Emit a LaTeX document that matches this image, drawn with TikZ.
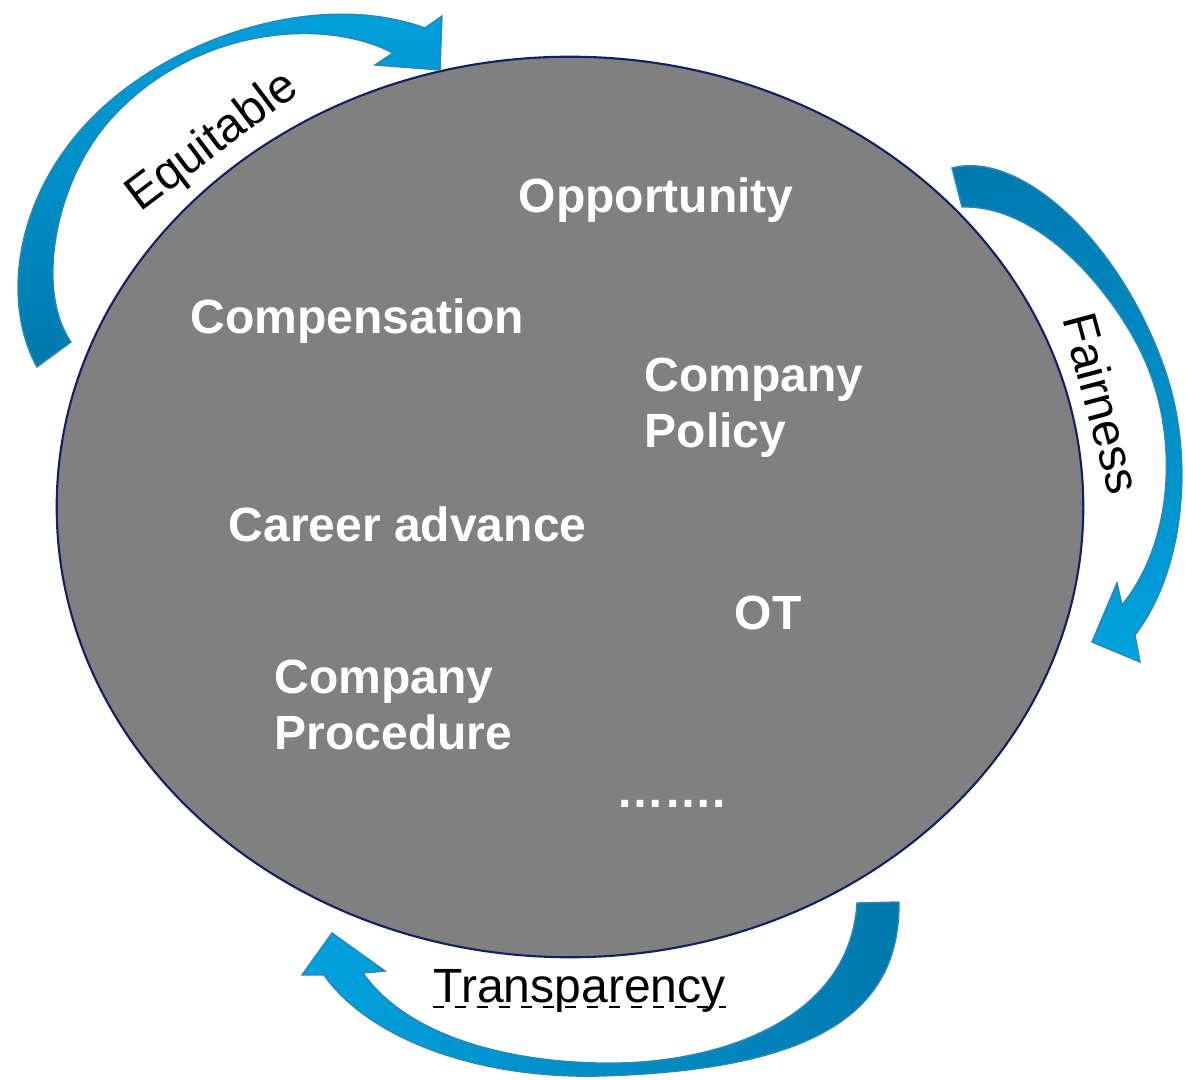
\documentclass[tikz,border=0pt]{standalone}
\usepackage{fontspec}
\setmainfont{Liberation Sans}
\definecolor{arrowdark}{HTML}{0079AE}
\definecolor{arrowlight}{HTML}{00A2DF}
\definecolor{arrowline}{HTML}{2C86B5}
\definecolor{ringline}{HTML}{0F2161}
\definecolor{ringfill}{HTML}{808080}

\begin{document}
\begin{tikzpicture}[x=0.01cm, y=-0.01cm,
    inword/.style={text=white, font=\bfseries\fontsize{13.66pt}{15.93pt}\selectfont, inner sep=0pt, anchor=base west, align=left},
    outword/.style={text=black, font=\fontsize{13.66pt}{15.93pt}\selectfont, inner sep=0pt, anchor=base west},
    bluearrow/.style={draw=arrowline, line width=0.4pt}]

    \useasboundingbox (0,0) rectangle (1185,1080);

    %% Values

    % Ring
    \draw[fill=ringfill, draw=ringline, line width=0.6pt] (570,507) ellipse [x radius=5.13cm, y radius=4.5cm];

    % Items
    \node[inword] (opportunity) at (518,213) {Opportunity};
    \node[inword] (compensation) at (190,334) {Compensation};
    \node[inword, anchor=north west] (policy) at (644,357) {Company\\Policy};
    \node[inword] (career) at (228,542) {Career advance};
    \node[inword] (ot) at (734,630) {OT};
    \node[inword, anchor=north west] (procedure) at (274,659) {Company\\Procedure};
    \node[inword] (dots) at (616,808) {…….};

    % Arrows
    \shadedraw[bluearrow, top color=arrowlight, bottom color=arrowdark]
        (37,367) .. controls (0,300) and (15,190) .. (100,110)
        .. controls (180,35) and (320,-10) .. (425,28)
        -- (442,16) -- (440,70) -- (375,65) -- (393,53)
        .. controls (320,15) and (190,30) .. (110,120)
        .. controls (55,182) and (35,290) .. (71,342) -- cycle;
    \shadedraw[bluearrow, top color=arrowdark, bottom color=arrowlight]
        (952,168) .. controls (1020,150) and (1120,240) .. (1165,370)
        .. controls (1195,457) and (1185,570) .. (1135,635)
        -- (1140,662) -- (1092,642) -- (1117,583) -- (1122,605)
        .. controls (1175,540) and (1180,430) .. (1140,350)
        .. controls (1110,290) and (1040,205) .. (962,207) -- cycle;
    \shadedraw[bluearrow, left color=arrowlight, right color=arrowdark]
        (899,902) .. controls (900,1010) and (820,1070) .. (600,1076)
        .. controls (480,1079) and (370,1040) .. (324,975)
        -- (302,975) -- (332,933) -- (385,971) -- (363,973)
        .. controls (410,1040) and (520,1065) .. (620,1063)
        .. controls (720,1061) and (850,1020) .. (857,903) -- cycle;

    % Labels
    \node[outword, rotate=37] (equitable) at (140,213) {Equitable};
    \node[outword, rotate=-75] (fairness) at (1062,318) {Fairness};
    \node[outword] (transparency) at (433,1002) {Transparency};
    \draw[line width=0.6pt, dash pattern=on 0.11cm off 0.11cm]
        ([yshift=-0.05cm]transparency.base west) -- ([yshift=-0.05cm]transparency.base east);

\end{tikzpicture}
\end{document}
